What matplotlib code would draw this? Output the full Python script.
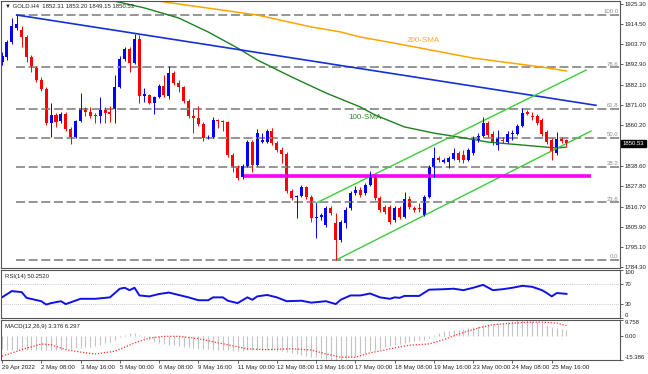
import matplotlib
matplotlib.use("Agg")
import matplotlib.pyplot as plt
from matplotlib.patches import Rectangle

plt.rcParams['font.family'] = ['Liberation Sans', 'DejaVu Sans']

# ---- price data (GOLD H4), one value per bar ----
opens = [
    1894.2, 1896.9, 1904.9, 1912.4, 1911.4, 1907.6, 1896.9, 1891.0, 1884.5, 1879.7,
    1861.5, 1865.8, 1862.6, 1866.3, 1858.3, 1854.0, 1862.6, 1869.5, 1867.4, 1865.8,
    1865.2, 1868.5, 1867.4, 1869.0, 1880.8, 1895.8, 1901.2, 1893.7, 1906.5, 1876.2,
    1876.5, 1872.2, 1875.4, 1881.3, 1876.0, 1888.3, 1882.9, 1880.8, 1873.3, 1865.2,
    1864.2, 1861.0, 1853.6, 1854.0, 1863.1, 1862.6, 1862.0, 1844.3, 1837.9, 1832.5,
    1838.4, 1851.3, 1839.0, 1851.3, 1851.3, 1857.2, 1850.8, 1847.0, 1844.9, 1825.0,
    1821.8, 1822.4, 1827.2, 1821.8, 1810.6, 1811.1, 1806.8, 1815.9, 1807.9, 1798.8,
    1807.9, 1815.9, 1824.0, 1825.6, 1824.0, 1828.3, 1832.5, 1821.3, 1816.5, 1816.5,
    1809.5, 1815.9, 1811.1, 1820.8, 1815.9, 1815.9, 1812.2, 1821.8, 1837.9, 1842.7,
    1840.6, 1840.6, 1842.2, 1845.4, 1844.3, 1841.7, 1845.4, 1852.4, 1854.5, 1861.5,
    1855.6, 1849.7, 1852.4, 1851.3, 1855.6, 1855.6, 1859.9, 1867.4, 1865.2, 1865.2,
    1863.1, 1856.7, 1852.4, 1845.4, 1852.9, 1852.31]
highs = [
    1899.6, 1906.0, 1917.8, 1919.4, 1913.5, 1908.7, 1897.9, 1892.1, 1886.2, 1880.8,
    1872.2, 1866.9, 1867.4, 1867.4, 1859.4, 1863.1, 1877.6, 1870.1, 1870.1, 1866.9,
    1875.4, 1870.1, 1870.6, 1887.2, 1897.4, 1902.2, 1902.2, 1909.2, 1908.7, 1880.3,
    1877.0, 1876.0, 1882.4, 1887.2, 1892.1, 1889.4, 1884.5, 1881.3, 1874.4, 1869.0,
    1870.6, 1862.0, 1855.0, 1864.7, 1863.6, 1863.1, 1862.6, 1845.4, 1839.0, 1839.5,
    1852.4, 1852.4, 1858.3, 1856.1, 1858.3, 1858.8, 1851.8, 1848.6, 1846.0, 1826.1,
    1822.9, 1828.3, 1827.7, 1822.9, 1818.6, 1813.2, 1817.0, 1817.0, 1813.2, 1809.5,
    1816.5, 1825.0, 1827.7, 1827.2, 1829.3, 1835.7, 1833.6, 1822.4, 1817.5, 1817.5,
    1817.0, 1817.0, 1824.5, 1822.4, 1817.0, 1818.6, 1822.9, 1839.0, 1848.6, 1843.8,
    1842.7, 1843.8, 1848.1, 1846.5, 1847.0, 1848.1, 1854.5, 1856.1, 1864.7, 1862.6,
    1857.2, 1857.7, 1853.9, 1857.2, 1857.7, 1861.0, 1869.5, 1868.5, 1867.4, 1866.3,
    1864.2, 1857.7, 1853.4, 1856.7, 1853.9, 1853.20]
lows = [
    1892.6, 1895.3, 1903.8, 1911.4, 1902.2, 1894.2, 1888.8, 1883.5, 1878.7, 1860.4,
    1854.0, 1859.4, 1861.5, 1857.2, 1850.2, 1853.4, 1862.0, 1865.2, 1864.2, 1861.5,
    1861.5, 1861.5, 1862.0, 1861.5, 1880.3, 1894.7, 1888.8, 1893.1, 1872.2, 1872.8,
    1871.7, 1866.3, 1874.9, 1875.4, 1874.4, 1881.9, 1878.1, 1872.2, 1864.2, 1856.1,
    1859.9, 1851.8, 1852.9, 1853.4, 1858.8, 1857.2, 1843.3, 1835.2, 1830.9, 1831.5,
    1837.9, 1835.2, 1838.4, 1850.8, 1850.8, 1849.7, 1846.0, 1840.0, 1824.0, 1820.2,
    1810.6, 1821.8, 1820.8, 1808.4, 1799.8, 1809.5, 1805.7, 1812.2, 1788.0, 1797.7,
    1805.2, 1814.9, 1822.9, 1821.8, 1822.9, 1827.7, 1820.2, 1813.8, 1812.7, 1807.4,
    1808.4, 1810.0, 1810.6, 1815.4, 1813.8, 1813.8, 1811.6, 1821.3, 1832.5, 1840.6,
    1840.0, 1837.4, 1841.7, 1840.6, 1840.0, 1841.1, 1844.3, 1851.3, 1854.0, 1854.0,
    1849.7, 1847.0, 1850.8, 1850.8, 1852.4, 1855.0, 1859.4, 1865.8, 1863.1, 1860.4,
    1854.5, 1850.2, 1841.7, 1844.3, 1850.8, 1849.15]
closes = [
    1897.4, 1904.9, 1913.5, 1914.6, 1907.6, 1896.9, 1891.0, 1884.5, 1879.7, 1861.5,
    1865.8, 1862.0, 1866.3, 1858.3, 1854.0, 1862.6, 1869.5, 1867.4, 1865.2, 1865.0,
    1868.5, 1866.9, 1866.3, 1880.8, 1895.8, 1901.2, 1893.7, 1906.5, 1876.0, 1877.0,
    1872.2, 1875.4, 1881.3, 1876.5, 1888.3, 1882.9, 1880.8, 1873.3, 1865.2, 1864.2,
    1861.0, 1853.4, 1854.0, 1863.1, 1862.6, 1862.0, 1844.3, 1837.9, 1832.0, 1838.4,
    1851.3, 1839.0, 1856.1, 1852.4, 1857.2, 1850.8, 1847.0, 1844.9, 1825.0, 1821.3,
    1822.4, 1827.2, 1821.8, 1810.6, 1811.1, 1812.2, 1815.9, 1813.2, 1798.8, 1808.4,
    1814.9, 1824.0, 1825.6, 1822.9, 1828.3, 1832.5, 1821.3, 1814.9, 1813.8, 1808.4,
    1815.9, 1811.1, 1820.8, 1816.5, 1814.9, 1815.4, 1821.8, 1837.9, 1842.7, 1841.7,
    1841.7, 1842.7, 1845.4, 1841.7, 1841.7, 1847.0, 1853.4, 1854.5, 1861.5, 1855.0,
    1850.8, 1853.4, 1851.8, 1855.6, 1856.1, 1859.9, 1866.9, 1866.6, 1864.7, 1861.5,
    1855.6, 1851.3, 1846.0, 1852.9, 1851.8, 1850.53]

# moving averages (bar index, value)
sma100_x = [18, 22, 29, 36, 42, 48, 52, 59, 66, 73, 76, 82, 88, 93, 99, 106, 113, 115]
sma100_y = [1930.1, 1927.4, 1923.2, 1917.8, 1910.3, 1901.7, 1895.3, 1886.2, 1877.6,
            1870.1, 1865.8, 1859.4, 1856.1, 1854.0, 1851.3, 1849.7, 1848.1, 1848.6]
sma200_x = [28, 33, 52, 63, 69, 73, 82, 96, 110, 115]
sma200_y = [1929.0, 1926.4, 1919.4, 1913.0, 1910.3, 1907.6, 1903.3, 1896.3, 1891.5, 1889.4]

# hand drawn lines
trend_x = [3, 121]
trend_y = [1919.4, 1871.0]
chan_up_x = [64, 119]
chan_up_y = [1818.6, 1889.9]
chan_lo_x = [68, 120]
chan_lo_y = [1788.0, 1857.2]
support_x = [49, 120]
support_y = 1833.1

fib_low, fib_high = 1788.0, 1919.4
fib_ratios = [0.0, 23.6, 38.2, 50.0, 61.8, 78.6, 100.0]
price_ticks = [1925.30, 1914.50, 1903.70, 1892.90, 1882.10, 1871.00, 1860.20,
               1838.60, 1827.80, 1816.70, 1805.90, 1795.10, 1784.30]

# RSI(14)
rsi_x = [0, 2, 4, 5, 8, 9, 10, 12, 13, 16, 19, 22, 24, 25, 26, 27, 28, 30, 32, 34,
         36, 38, 40, 42, 43, 45, 46, 48, 50, 51, 52, 54, 56, 58, 61, 63, 66, 68, 69, 71,
         73, 75, 77, 79, 80, 81, 82, 85, 87, 90, 92, 94, 96, 98, 100, 102, 104, 106, 108, 110,
         111, 112, 113, 115]
rsi_v = [43, 56, 54, 42, 35, 28, 31, 35, 29, 40, 40, 43, 61, 63, 58, 63, 47, 45, 50, 53,
         48, 43, 37, 37, 43, 43, 36, 31, 43, 38, 45, 48, 43, 35, 36, 32, 35, 29, 38, 47,
         47, 51, 43, 40, 43, 42, 46, 46, 59, 60, 61, 58, 63, 69, 58, 60, 63, 67, 65, 58,
         52, 45, 52, 50.25]

# MACD(12,26,9): main per bar, signal sampled
macd_main = [
    -8.5, -8.8, -9.0, -9.0, -9.2,
    -9.3, -9.4, -9.3, -9.2, -9.4, -9.3, -9.0, -8.8,
    -8.6, -8.3, -8.0, -7.6, -7.3, -7.0, -6.6, -6.0,
    -5.0, -4.0, -2.6, -1.0, 0.5, 1.4, 1.6,
    0.2, -1.4, -2.8, -3.8, -4.6, -5.3, -5.8, -6.2,
    -6.6, -7.0, -7.4, -7.8, -8.2, -8.5, -8.7, -8.9, -9.0, -9.2, -9.4, -9.6, -9.7, -9.6, -9.4,
    -9.2, -9.0, -9.0, -9.1, -9.3, -9.5, -9.8, -10.2, -10.8, -11.4, -12.0, -12.6, -13.2, -13.8, -14.4,
    -14.8, -15.1, -15.386, -15.2, -14.6, -13.8, -12.8, -11.8, -10.8, -9.8,
    -9.0, -8.2, -7.4, -6.6, -6.0, -5.4, -4.8, -4.2, -3.6, -3.0, -2.6, -1.5,
    0.5, 1.8, 2.6, 3.0, 3.2, 3.5, 4.0, 4.6,
    5.4, 6.0, 6.8, 7.0, 7.2, 7.6, 8.0, 8.6, 9.2,
    9.5, 9.758, 9.6, 9.0, 8.4, 7.6,
    6.6, 5.6, 4.8, 4.0, 3.376]
sig_x = [0, 4, 8, 10, 13, 17, 19, 23, 27, 30, 33, 36, 40, 46, 50, 54, 59, 63, 66, 69,
         72, 75, 80, 83, 87, 90, 93, 97, 100, 104, 107, 110, 113, 115]
sig_v = [-13.0, -8.9, -5.3, -5.8, -8.9, -10.9, -11.6, -9.9, -4.7, -1.6, -0.5, -0.5, -2.0,
         -5.8, -8.4, -8.9, -8.3, -9.1, -11.6, -13.6, -13.6, -10.9, -7.8, -6.1, -5.3, -2.6,
         0.9, 4.7, 6.8, 7.8, 8.3, 8.4, 7.8, 6.3]

time_pos = [0, 8, 16, 24, 32, 40, 48, 56, 64, 72, 80, 88, 96, 104, 112]
time_labels = ['29 Apr 2022', '2 May 08:00', '3 May 16:00', '5 May 00:00', '6 May 08:00',
               '9 May 16:00', '11 May 00:00', '12 May 08:00', '13 May 16:00', '17 May 00:00',
               '18 May 08:00', '19 May 16:00', '23 May 00:00', '24 May 08:00', '25 May 16:00']

assert len(opens) == len(highs) == len(lows) == len(closes) == len(macd_main)

W, H = 648, 374
fig = plt.figure(figsize=(W / 100, H / 100), dpi=100)


def box(x0, y0, x1, y1):
    return [x0 / W, 1 - y1 / H, (x1 - x0) / W, (y1 - y0) / H]


ax = fig.add_axes(box(1, 1, 620, 268))
ax_rsi = fig.add_axes(box(1, 270, 620, 318))
ax_macd = fig.add_axes(box(1, 320, 620, 360))

XMIN, XMAX = -0.2, 125.9
TICK_FS = 4.3
spine_col = '#555555'

for a in (ax, ax_rsi, ax_macd):
    a.set_xlim(XMIN, XMAX)
    a.yaxis.tick_right()
    a.tick_params(axis='y', direction='out', length=2, width=0.5, pad=1.5,
                  labelsize=TICK_FS, colors='#222222')
    for s in a.spines.values():
        s.set_color(spine_col)
        s.set_linewidth(0.8)

# ---- main price panel ----
ax.set_ylim(1783.8, 1926.9)
ax.set_xticks([])

# fibonacci retracement
for r in fib_ratios:
    lvl = fib_low + r / 100 * (fib_high - fib_low)
    ax.hlines(lvl, 2.8, XMAX, colors='#8c8c8c', linewidth=1.3, linestyles=(0, (5, 2)))
    ax.text(XMAX - 0.3, lvl + 0.4, f'{r:.1f}', ha='right', va='bottom',
            fontsize=TICK_FS, color='#8c8c8c')

ax.plot(sma200_x, sma200_y, color='#ffa500', lw=1.1)
ax.plot(sma100_x, sma100_y, color='#1f7f1f', lw=1.0)
ax.plot(trend_x, trend_y, color='#1530d8', lw=1.2)
ax.plot(chan_up_x, chan_up_y, color='#3ccc3c', lw=1.0)
ax.plot(chan_lo_x, chan_lo_y, color='#3ccc3c', lw=1.0)
ax.plot(support_x, [support_y, support_y], color='#ff00ff', lw=2.6, solid_capstyle='butt')

# candlesticks
for i, (o, h, l, c) in enumerate(zip(opens, highs, lows, closes)):
    col = '#0000ff' if c >= o else '#ff0000'
    ax.vlines(i, l, h, colors=col, linewidth=0.7)
    body = max(abs(c - o), 0.5)
    ax.add_patch(Rectangle((i - 0.31, min(o, c)), 0.62, body, facecolor=col,
                           edgecolor='none'))

ax.text(70.5, 1864.4, '100-SMA', color='#2a8a2a', fontsize=5.8, va='center')
ax.text(82.5, 1905.7, '200-SMA', color='#ffa530', fontsize=5.8, va='center')

ax.set_yticks(price_ticks, labels=[f'{p:.2f}' for p in price_ticks])
ax.text(0.006, 0.981, '\u25bc GOLD.H4  1852.31 1853.20 1849.15 1850.53',
        transform=ax.transAxes, fontsize=TICK_FS, va='center', ha='left', color='#222222')
ax.text(1.004, closes[-1], f'{closes[-1]:.2f}', transform=ax.get_yaxis_transform(),
        ha='left', va='center', fontsize=TICK_FS, color='white',
        bbox=dict(boxstyle='square,pad=0.25', fc='black', ec='black'))

# ---- RSI panel ----
ax_rsi.set_ylim(0, 100)
ax_rsi.set_xticks([])
for lv in (70, 30):
    ax_rsi.axhline(lv, color='#b8b8b8', lw=0.6, ls=(0, (1, 1.5)))
ax_rsi.plot(rsi_x, rsi_v, color='#1010e8', lw=1.4)
ax_rsi.set_yticks([0, 30, 70, 100], labels=['0', '30', '70', '100'])
tl = ax_rsi.get_yticklabels()
tl[0].set_va('bottom')
tl[-1].set_va('top')
ax_rsi.text(0.006, 0.86, 'RSI(14) 50.2520', transform=ax_rsi.transAxes,
            fontsize=TICK_FS, va='center', color='#222222')

# ---- MACD panel ----
ax_macd.set_ylim(-15.386, 9.758)
ax_macd.vlines(range(len(macd_main)), 0, macd_main, colors='#c4c4c4', linewidth=0.8)
ax_macd.plot(sig_x, sig_v, color='#ff3030', lw=0.9, ls=(0, (1, 1.4)))
ax_macd.set_yticks([-15.386, 0, 9.758], labels=['-15.386', '0.00', '9.758'])
tl = ax_macd.get_yticklabels()
tl[0].set_va('bottom')
tl[-1].set_va('top')
ax_macd.text(0.006, 0.84, 'MACD(12,26,9) 3.376 6.297', transform=ax_macd.transAxes,
             fontsize=TICK_FS, va='center', color='#222222')

ax_macd.set_xticks(time_pos, labels=time_labels)
ax_macd.tick_params(axis='x', direction='out', length=2, width=0.5, pad=1.5,
                    labelsize=4.4, colors='#222222')
for lbl in ax_macd.get_xticklabels():
    lbl.set_ha('left')

fig.savefig('out.png', dpi=100)
